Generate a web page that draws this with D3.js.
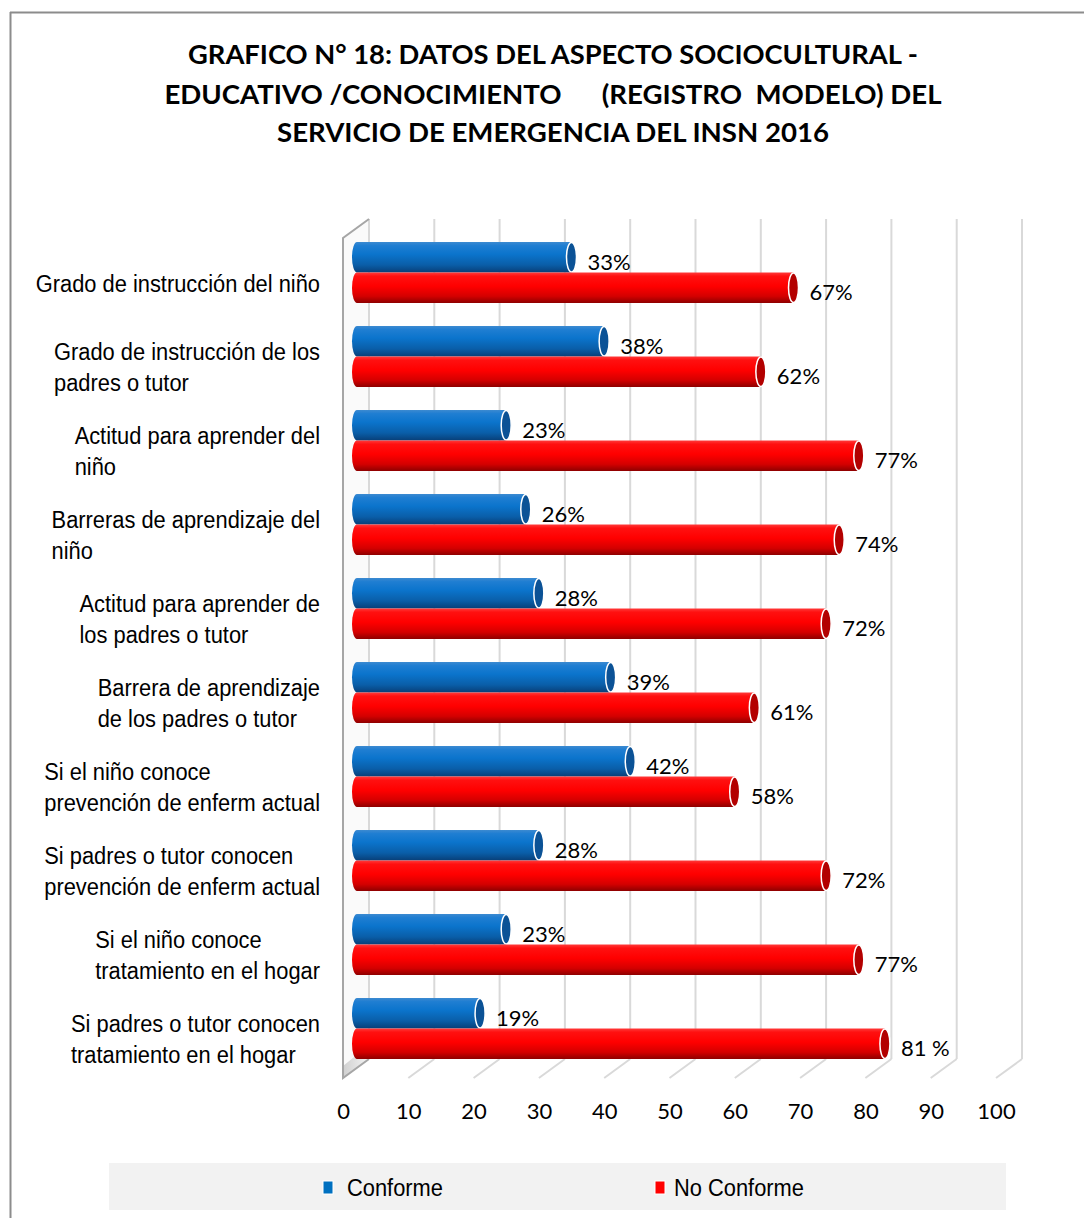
<!DOCTYPE html>
<html>
<head>
<meta charset="utf-8">
<script src="https://cdn.jsdelivr.net/npm/d3@7/dist/d3.min.js"></script>
<style>
  html, body { margin: 0; padding: 0; background: #fff; }
  svg { display: block; }
</style>
</head>
<body>
<svg id="chart" width="1084" height="1218"></svg>
<script>
// Category labels (line breaks as drawn on the axis)
const categories = [
  "Grado de instrucción del niño",
  "Grado de instrucción de los\npadres o tutor",
  "Actitud para aprender del\nniño",
  "Barreras de aprendizaje del\nniño",
  "Actitud para aprender de\nlos padres o tutor",
  "Barrera de aprendizaje\nde los padres o tutor",
  "Si el niño conoce\nprevención de enferm actual",
  "Si padres o tutor conocen\nprevención de enferm actual",
  "Si el niño conoce\ntratamiento en el hogar",
  "Si padres o tutor conocen\ntratamiento en el hogar"
];
const conforme   = [33, 38, 23, 26, 28, 39, 42, 28, 23, 19];
const noConforme = [67, 62, 77, 74, 72, 61, 58, 72, 77, 81];
const noConformeLabels = ["67%", "62%", "77%", "74%", "72%", "61%", "58%", "72%", "77%", "81 %"];
const seriesNames = ["Conforme", "No Conforme"];
const xTicks = [0, 10, 20, 30, 40, 50, 60, 70, 80, 90, 100];
const titleLines = [
  "GRAFICO N° 18: DATOS DEL ASPECTO SOCIOCULTURAL -",
  "EDUCATIVO /CONOCIMIENTO      (REGISTRO  MODELO) DEL",
  "SERVICIO DE EMERGENCIA DEL INSN 2016"
];

const svg = d3.select("#chart");
const narrow = "'Liberation Sans', Arial, sans-serif";
const narrowFactor = 0.95; // horizontal condensing of the label face
const numFont = "Lato, 'Open Sans', sans-serif";

// condensed text helper: keep glyph height, squeeze width
function condense(sel, factor) {
  sel.each(function () {
    const w = this.getComputedTextLength();
    d3.select(this).attr("textLength", w * factor).attr("lengthAdjust", "spacingAndGlyphs");
  });
  return sel;
}

// ---- outer frame ----
svg.append("line").attr("x1", 10).attr("x2", 1084).attr("y1", 12.5).attr("y2", 12.5)
  .attr("stroke", "#8c8c8c").attr("stroke-width", 2);
svg.append("line").attr("x1", 10.5).attr("x2", 10.5).attr("y1", 12).attr("y2", 1218)
  .attr("stroke", "#8c8c8c").attr("stroke-width", 2);

// ---- title ----
const titleWidths = [730, 777, 552];
const titleYs = [53, 93, 131];
titleLines.forEach((t, i) => {
  svg.append("text")
    .attr("x", 553).attr("y", titleYs[i])
    .attr("text-anchor", "middle").attr("dominant-baseline", "central")
    .attr("font-family", "Lato, 'Open Sans', sans-serif").attr("font-weight", "bold")
    .attr("font-size", 27).attr("fill", "#000")
    .attr("textLength", titleWidths[i]).attr("lengthAdjust", "spacingAndGlyphs")
    .style("white-space", "pre")
    .text(t);
});

// ---- 3D geometry: front plane, back plane and bar depth ----
const front = { y0: 238, y1: 1078 };
const depthX = 26, depthY = 19;
const xFront = d3.scaleLinear().domain([0, 100]).range([343, 996]);
const xBack = v => xFront(v) + depthX;
const x = d3.scaleLinear().domain([0, 100]).range([343 + 13, 996 + 13]);

const y = d3.scaleBand().domain(d3.range(categories.length))
  .range([230.5, 1070.5]).paddingInner(0.274).paddingOuter(0.137);
const ySub = d3.scaleBand().domain([0, 1]).range([0, y.bandwidth()]);

const defs = svg.append("defs");
const grid = svg.append("g");
// left wall shading
grid.append("path")
  .attr("d", `M${xFront(0)},${front.y0} L${xBack(0)},${front.y0 - depthY} L${xBack(0)},${front.y1 - depthY} L${xFront(0)},${front.y1} Z`)
  .attr("fill", "#fafafa");
const floorGrad = defs.append("linearGradient").attr("id", "wallFloor")
  .attr("x1", 0).attr("x2", 1).attr("y1", 0).attr("y2", 0);
floorGrad.append("stop").attr("offset", 0).attr("stop-color", "#d0d0d0");
floorGrad.append("stop").attr("offset", 1).attr("stop-color", "#f4f4f4");
grid.append("path")
  .attr("d", `M${xFront(0)},${front.y1} L${xBack(0)},${front.y1 - depthY} L${xBack(0)},${front.y1 - depthY - 14} L${xFront(0)},${front.y1 - 12} Z`)
  .attr("fill", "url(#wallFloor)");

// back-wall gridlines and floor lines
xTicks.forEach(v => {
  grid.append("line")
    .attr("x1", xBack(v)).attr("x2", xBack(v))
    .attr("y1", front.y0 - depthY).attr("y2", front.y1 - depthY)
    .attr("stroke", "#d9d9d9").attr("stroke-width", 2);
  if (v > 0) {
    grid.append("line")
      .attr("x1", xFront(v)).attr("x2", xBack(v))
      .attr("y1", front.y1).attr("y2", front.y1 - depthY)
      .attr("stroke", "#d9d9d9").attr("stroke-width", 2);
  }
});
// left wall edges
grid.append("path")
  .attr("d", `M${xBack(0)},${front.y0 - depthY} L${xFront(0)},${front.y0} L${xFront(0)},${front.y1} L${xBack(0)},${front.y1 - depthY}`)
  .attr("fill", "none").attr("stroke", "#a6a6a6").attr("stroke-width", 2);

// ---- axis tick labels ----
const axis = d3.axisBottom(xFront).tickValues(xTicks).tickSize(0).tickPadding(0).tickFormat(d3.format("d"));
const axisG = svg.append("g").attr("transform", `translate(0, 1100)`).call(axis);
axisG.select(".domain").remove();
axisG.selectAll("text")
  .attr("font-family", numFont).attr("font-size", 22).attr("fill", "#000")
  .attr("dy", "0.32em").attr("y", 12);

// ---- cylinder gradients ----
function cylGrad(id, stops) {
  const g = defs.append("linearGradient").attr("id", id)
    .attr("x1", 0).attr("x2", 0).attr("y1", 0).attr("y2", 1);
  stops.forEach(([o, c]) => g.append("stop").attr("offset", o).attr("stop-color", c));
}
cylGrad("gBlue", [[0, "#3c8ad0"], [0.12, "#1f7ed2"], [0.4, "#0b74cc"], [0.75, "#0a5ea8"], [1, "#083f78"]]);
cylGrad("gRed",  [[0, "#ff3a3a"], [0.12, "#ff1010"], [0.45, "#ff0000"], [0.78, "#d40000"], [1, "#8e0000"]]);
const capColors = ["#0b5296", "#b30000"];
const grads = ["url(#gBlue)", "url(#gRed)"];

const series = [conforme, noConforme];
const labels = [conforme.map(v => v + "%"), noConformeLabels];

const bars = svg.append("g");
series.forEach((vals, s) => {
  vals.forEach((v, i) => {
    const top = y(i) + ySub(s);
    const h = ySub.bandwidth();
    const x0 = x(0) - 4, x1 = x(v);
    const rx = 5;
    // body with rounded far-left end
    bars.append("path")
      .attr("d", `M${x0 + rx},${top} L${x1},${top} L${x1},${top + h} L${x0 + rx},${top + h} A${rx},${h / 2} 0 0 1 ${x0 + rx},${top} Z`)
      .attr("fill", grads[s]);
    // end cap
    bars.append("ellipse")
      .attr("cx", x1).attr("cy", top + h / 2)
      .attr("rx", rx).attr("ry", h / 2 - 0.5)
      .attr("fill", capColors[s]).attr("stroke", "#fff").attr("stroke-width", 1.5);
    // value label
    bars.append("text")
      .attr("x", x1 + rx + 11).attr("y", top + h / 2 + 4)
      .attr("dominant-baseline", "central")
      .attr("font-family", numFont).attr("font-size", 22).attr("fill", "#000")
      .style("white-space", "pre")
      .text(labels[s][i]);
  });
});

// ---- category labels: block right-aligned, lines left-aligned ----
const catG = svg.append("g");
categories.forEach((c, i) => {
  const lines = c.split("\n");
  const cy = y(i) + y.bandwidth() / 2 + 11;
  const lh = 31;
  const t = catG.append("g");
  const texts = lines.map((ln, j) => t.append("text")
    .attr("y", cy + (j - (lines.length - 1) / 2) * lh)
    .attr("dominant-baseline", "central")
    .attr("font-family", narrow).attr("font-size", 23).attr("fill", "#000")
    .text(ln));
  const widths = texts.map(tx => tx.node().getComputedTextLength() * narrowFactor);
  texts.forEach((tx, j) => tx.attr("textLength", widths[j]).attr("lengthAdjust", "spacingAndGlyphs"));
  const maxW = d3.max(widths);
  texts.forEach(tx => tx.attr("x", 320 - maxW));
});

// ---- legend ----
const leg = svg.append("g");
leg.append("rect").attr("x", 109).attr("y", 1163).attr("width", 897).attr("height", 47).attr("fill", "#f2f2f2");
const legSwatchX = [323, 655];
const legTextX = [347, 674];
const legColors = ["#0070c0", "#ff0000"];
seriesNames.forEach((n, i) => {
  leg.append("rect").attr("x", legSwatchX[i]).attr("y", 1181).attr("width", 10).attr("height", 13)
    .attr("fill", legColors[i]).attr("stroke", "#fff").attr("stroke-width", 1);
  const tx = leg.append("text").attr("x", legTextX[i]).attr("y", 1188)
    .attr("dominant-baseline", "central")
    .attr("font-family", narrow).attr("font-size", 23).attr("fill", "#000")
    .text(n);
  condense(tx, narrowFactor);
});
</script>
</body>
</html>
